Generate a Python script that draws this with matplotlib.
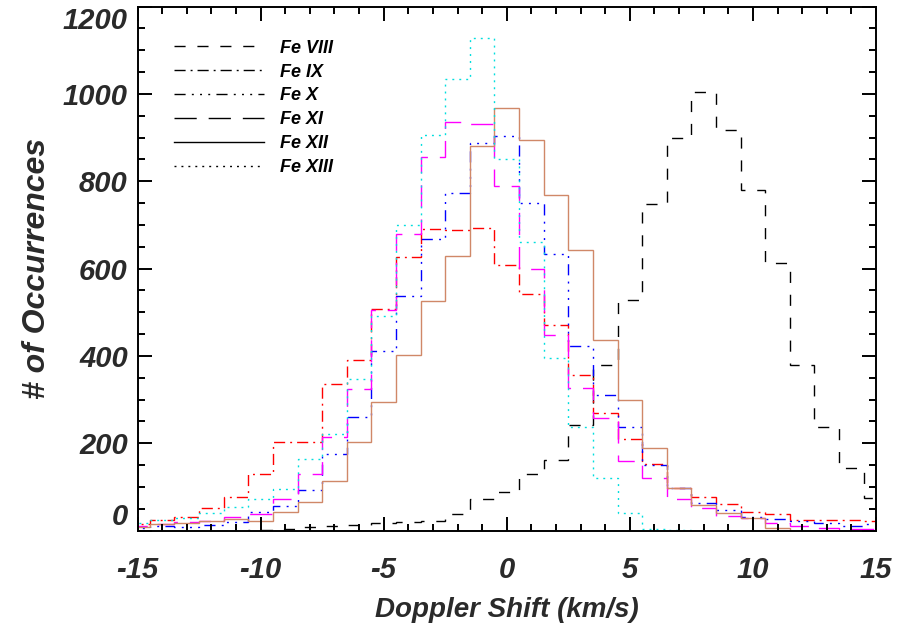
import matplotlib
matplotlib.use('Agg')

import matplotlib.pyplot as plt
from matplotlib.lines import Line2D
from matplotlib.ticker import MultipleLocator
import numpy as np

# histogram values, one per 1 km/s bin centred on -15 ... 15
centers = np.arange(-15, 16)
fe8 = [0, 0, 0, 0, 0, 1, 3, 7, 11, 13, 17, 19, 21, 38, 72, 88,
       130, 162, 242, 378, 528, 747, 900, 1005, 918, 779, 613, 379, 238, 144, 74]
fe9 = [14, 24, 31, 52, 77, 130, 203, 203, 336, 391, 507, 626, 691, 689, 693, 607,
       541, 470, 355, 269, 210, 153, 98, 77, 60, 43, 38, 23, 23, 25, 21]
fe10 = [6, 10, 8, 12, 19, 42, 57, 93, 175, 260, 410, 538, 667, 774, 887, 904,
        750, 633, 422, 311, 236, 151, 98, 63, 46, 31, 27, 21, 18, 11, 16]
fe11 = [11, 14, 19, 21, 32, 38, 72, 130, 214, 325, 506, 680, 855, 935, 930, 789,
        600, 447, 326, 258, 159, 120, 71, 52, 33, 29, 18, 11, 6, 4, 3]
fe12 = [8, 14, 18, 22, 27, 22, 42, 66, 114, 203, 294, 403, 525, 628, 881, 968,
        895, 769, 643, 437, 299, 188, 98, 59, 40, 29, 6, 0, 0, 0, 0]
fe13 = [18, 24, 29, 40, 53, 72, 95, 164, 221, 348, 492, 700, 906, 1034, 1127, 851,
        660, 396, 236, 120, 40, 3, 1, 0, 0, 0, 0, 0, 0, 0, 0]

labels = ['Fe VIII', 'Fe IX', 'Fe X', 'Fe XI', 'Fe XII', 'Fe XIII']
colors = ['black', 'red', 'blue', 'magenta', '#d08868', '#00dede']
styles = [(0, (8, 8.5)),
          (0, (8, 3.6, 1.4, 3.6)),
          (0, (8, 4.5, 1.4, 4.5, 1.4, 4.5, 1.4, 4.5)),
          (0, (16, 8.6)),
          '-',
          (0, (1.4, 3.6))]

font = ['Liberation Sans', 'DejaVu Sans']
plt.rcParams['font.family'] = font
plt.rcParams['font.weight'] = 'bold'
plt.rcParams['font.style'] = 'italic'
plt.rcParams['axes.unicode_minus'] = False
txt = '#2a2a2a'

fig = plt.figure(figsize=(8.97, 6.32), dpi=100)
ax = fig.add_axes([0.1533, 0.1606, 0.9766 - 0.1533, 0.9897 - 0.1606])

edges = np.arange(-15.5, 16.0, 1.0)
series = [fe8, fe9, fe10, fe11, fe12, fe13]
for vals, c, ls in zip(series, colors, styles):
    ax.stairs(vals, edges, baseline=None, color=c, linestyle=ls, linewidth=1.0)

ax.set_xlim(-15, 15)
ax.set_ylim(0, 1200)
ax.xaxis.set_major_locator(MultipleLocator(5))
ax.xaxis.set_minor_locator(MultipleLocator(1))
ax.yaxis.set_major_locator(MultipleLocator(200))
ax.yaxis.set_minor_locator(MultipleLocator(50))
ax.tick_params(which='both', direction='in', top=True, right=True, width=1.4)
ax.tick_params(which='major', length=10, labelsize=21, labelcolor=txt)
ax.tick_params(axis='x', which='major', pad=18)
ax.tick_params(axis='y', which='major', pad=7)
ax.tick_params(which='minor', length=5)
for s in ax.spines.values():
    s.set_linewidth(1.4)

fig.canvas.draw()
for t in ax.get_yticklabels():
    if t.get_text() == '1200':
        t.set_va('top')
    elif t.get_text() == '0':
        t.set_va('bottom')

ax.set_xlabel('Doppler Shift (km/s)', fontsize=20, fontweight='bold',
              color=txt, labelpad=10)
ax.set_ylabel('# of Occurrences', fontsize=23, fontweight='bold',
              color=txt, labelpad=8)

handles = [Line2D([], [], color='black', linestyle=ls, linewidth=1.0) for ls in styles]
ax.legend(handles, labels, loc='upper left', bbox_to_anchor=(0.037, 0.954),
          frameon=False, fontsize=13, handlelength=5.0, handletextpad=0.9,
          labelspacing=0.38, borderpad=0)

fig.savefig('out.png', dpi=100)
